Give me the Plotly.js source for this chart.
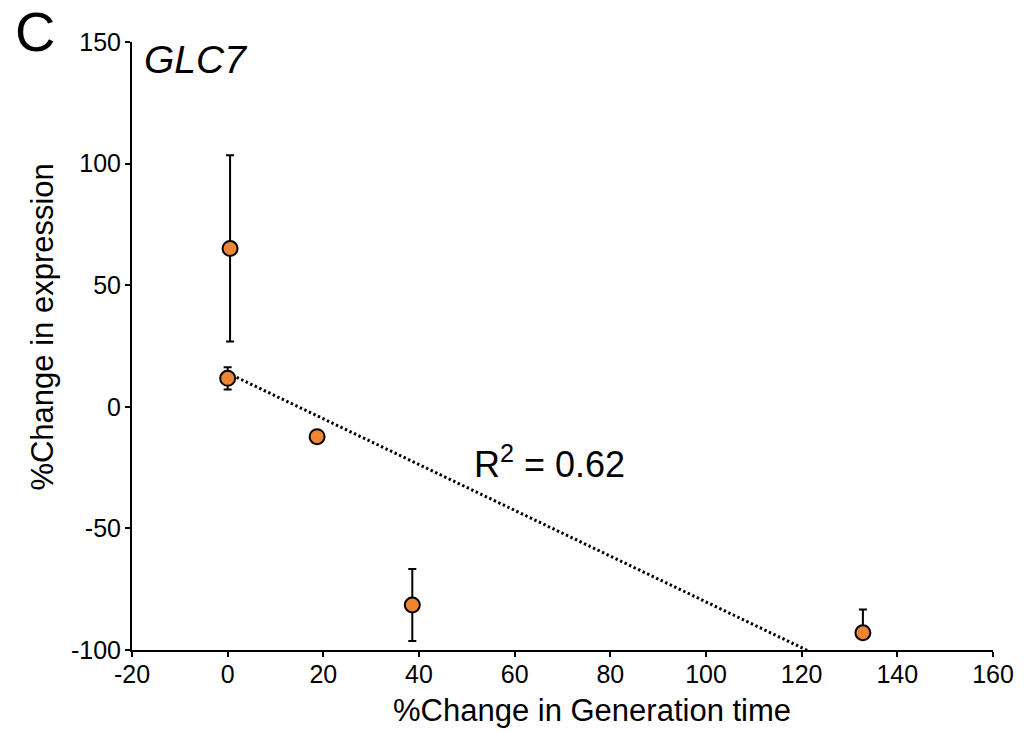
<!DOCTYPE html>
<html>
<head>
<meta charset="utf-8">
<script src="https://cdn.plot.ly/plotly-3.0.1.min.js"></script>
<style>
  html, body { margin: 0; padding: 0; background: #ffffff; }
  #chart { width: 1026px; height: 731px; }
</style>
</head>
<body>
<div id="chart"></div>
<script>
// ---- data ----
const genTimeChange = [0.5, 0.0, 18.7, 38.6, 132.8];      // %Change in Generation time
const exprChange    = [65.1, 11.7, -12.3, -81.5, -92.9];  // %Change in expression
const errUp         = [38.3, 4.6, 0, 14.8, 9.6];
const errDown       = [38.3, 4.6, 0, 14.8, 0];
const xTicks = [-20, 0, 20, 40, 60, 80, 100, 120, 140, 160];
const yTicks = [-100, -50, 0, 50, 100, 150];
const panelLabel = "C";
const geneName = "GLC7";
const r2Label = "0.62";
const xTitle = "%Change in Generation time";
const yTitle = "%Change in expression";

// ---- least squares fit from the data ----
function fit(xs, ys) {
  const n = xs.length;
  const mx = xs.reduce((a, b) => a + b, 0) / n;
  const my = ys.reduce((a, b) => a + b, 0) / n;
  let sxy = 0, sxx = 0;
  for (let i = 0; i < n; i++) { sxy += (xs[i] - mx) * (ys[i] - my); sxx += (xs[i] - mx) ** 2; }
  const slope = sxy / sxx;
  return { slope, intercept: my - slope * mx };
}
const f = fit(genTimeChange, exprChange);
const lineX = [0, 140];
const lineY = lineX.map(x => f.intercept + f.slope * x);

const FONT = "Arial, 'Liberation Sans', Helvetica, sans-serif";

const traces = [
  {
    x: lineX, y: lineY, mode: 'lines', type: 'scatter',
    line: { color: '#000000', width: 3, dash: '2.4px,2.6px' },
    hoverinfo: 'skip', showlegend: false
  },
  {
    x: genTimeChange, y: exprChange, mode: 'markers', type: 'scatter',
    marker: { size: 15, color: '#EE8535', line: { color: '#000000', width: 2 } },
    error_y: { type: 'data', symmetric: false, array: errUp, arrayminus: errDown,
               color: '#000000', thickness: 2, width: 4 },
    cliponaxis: false, showlegend: false
  }
];

const layout = {
  width: 1026, height: 731,
  margin: { l: 132, r: 33, t: 42, b: 81, pad: 0 },
  paper_bgcolor: '#ffffff', plot_bgcolor: '#ffffff',
  font: { family: FONT, color: '#000000', size: 25 },
  showlegend: false,
  xaxis: {
    range: [-20, 160], tickvals: xTicks, ticktext: xTicks.map(String),
    showgrid: false, zeroline: false, showline: true, linecolor: '#000000', linewidth: 2,
    ticks: 'outside', ticklen: 5, tickwidth: 2, tickcolor: '#000000',
    ticklabelstandoff: -4,
    tickfont: { family: FONT, size: 25, color: '#000000' }
  },
  yaxis: {
    range: [-100, 150], tickvals: yTicks, ticktext: yTicks.map(String),
    showgrid: false, zeroline: false, showline: true, linecolor: '#000000', linewidth: 2,
    ticks: 'outside', ticklen: 5, tickwidth: 2, tickcolor: '#000000',
    ticklabelstandoff: -1,
    tickfont: { family: FONT, size: 25, color: '#000000' }
  },
  annotations: [
    { text: panelLabel, xref: 'paper', yref: 'paper', x: -0.138, y: 1.018,
      xanchor: 'left', yanchor: 'middle', showarrow: false,
      font: { family: FONT, size: 56, color: '#000000' } },
    { text: '<i>' + geneName + '</i>', xref: 'paper', yref: 'paper', x: 0.012, y: 0.971,
      xanchor: 'left', yanchor: 'middle', showarrow: false,
      font: { family: FONT, size: 39, color: '#000000' } },
    { text: 'R<sup>2</sup> = ' + r2Label, xref: 'x', yref: 'y', x: 51, y: -22.5,
      xanchor: 'left', yanchor: 'middle', showarrow: false,
      font: { family: FONT, size: 36, color: '#000000' } },
    { text: xTitle, xref: 'paper', yref: 'paper', x: 0.534, y: -0.1, 
      xanchor: 'center', yanchor: 'middle', showarrow: false,
      font: { family: FONT, size: 31, color: '#000000' } },
    { text: yTitle, xref: 'paper', yref: 'paper', x: -0.104, y: 0.531, textangle: -90,
      xanchor: 'center', yanchor: 'middle', showarrow: false,
      font: { family: FONT, size: 31, color: '#000000' } }
  ]
};

Plotly.newPlot('chart', traces, layout, { displayModeBar: false, staticPlot: true });
</script>
</body>
</html>
